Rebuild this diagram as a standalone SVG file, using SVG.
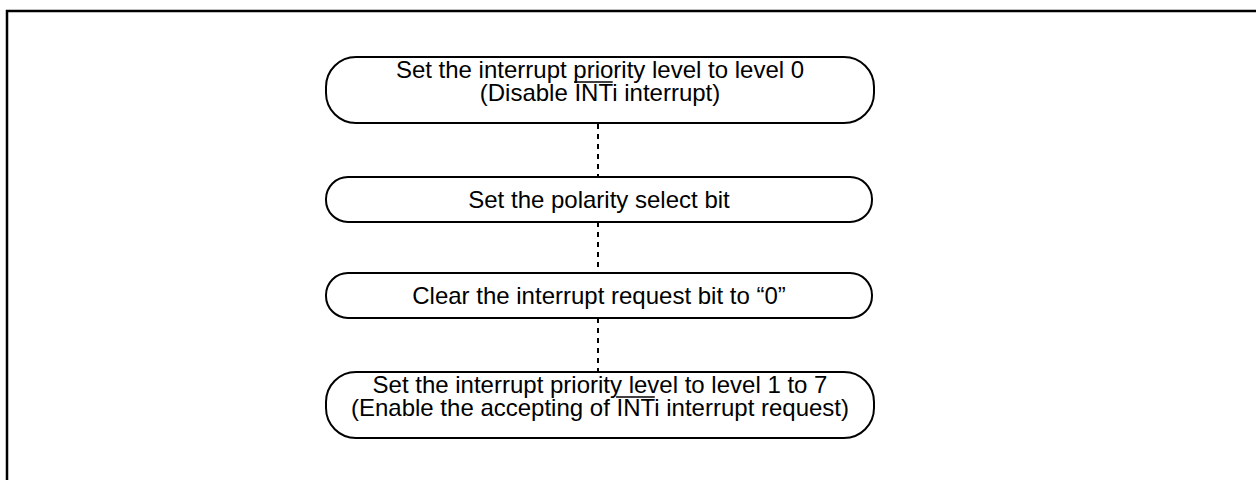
<svg xmlns="http://www.w3.org/2000/svg" width="1256" height="480" viewBox="0 0 1256 480">
<style>
.node{fill:#fff;stroke:#000;stroke-width:2}
.t{font-family:"Liberation Sans",Arial,sans-serif;font-size:24px;fill:#000;text-anchor:middle}
.ol{stroke:#000;stroke-width:1.3}
.conn{stroke:#000;stroke-width:2;stroke-dasharray:5 5;fill:none}
</style>
<rect x="0" y="0" width="1256" height="480" fill="#fff"/>
<rect x="7" y="11" width="1270" height="490" fill="none" stroke="#000" stroke-width="2.5"/>
<g id="connectors">
<line class="conn" x1="598" y1="124" x2="598" y2="177"/>
<line class="conn" x1="598" y1="222" x2="598" y2="272"/>
<line class="conn" x1="598" y1="318" x2="598" y2="371"/>
</g>
<g id="node1">
<rect class="node" x="326" y="57" width="548" height="66" rx="30" ry="30"/>
<text class="t" x="600" y="78">Set the interrupt priority level to level 0</text>
<text class="t" x="600" y="101"><tspan>(Disable </tspan><tspan>INT</tspan><tspan>i interrupt)</tspan></text>
<line class="ol" x1="574" y1="82" x2="612.7" y2="82"/>
</g>
<g id="node2">
<rect class="node" x="326" y="177" width="546" height="45" rx="22" ry="22"/>
<text class="t" x="599" y="208">Set the polarity select bit</text>
</g>
<g id="node3">
<rect class="node" x="326" y="273" width="546" height="45" rx="22" ry="22"/>
<text class="t" x="599" y="304">Clear the interrupt request bit to “0”</text>
</g>
<g id="node4">
<rect class="node" x="326" y="372" width="548" height="66" rx="30" ry="30"/>
<text class="t" x="600" y="393">Set the interrupt priority level to level 1 to 7</text>
<text class="t" x="600" y="416"><tspan>(Enable the accepting of </tspan><tspan>INT</tspan><tspan>i interrupt request)</tspan></text>
<line class="ol" x1="616.1" y1="397" x2="654.8" y2="397"/>
</g>
</svg>
